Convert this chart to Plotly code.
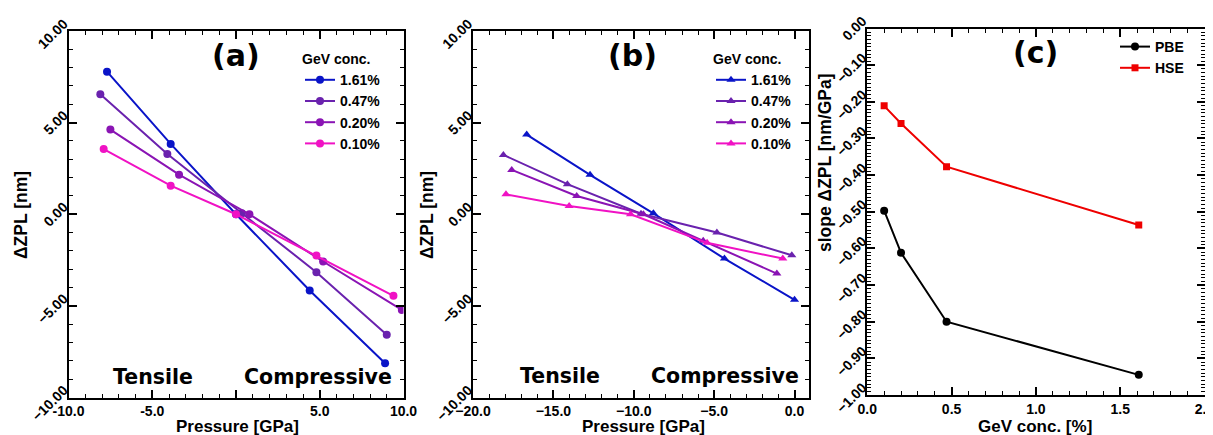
import plotly.graph_objects as go

# the page keeps the browser's 8px body margin, so the figure is drawn 8px smaller
PAGE_W, PAGE_H, BODY = 1213, 435, 8
W, H = PAGE_W - BODY, PAGE_H - BODY

# panel (a): PBE, pressure vs dZPL
conc_labels = ['1.61%', '0.47%', '0.20%', '0.10%']
colors = ['#0a14c8', '#6a22ae', '#8a14b4', '#f012c4']

press_a_161 = [-7.7, -3.9, 0.0, 4.4, 8.9]
zpl_a_161 = [7.78, 3.84, 0.0, -4.16, -8.13]
press_a_047 = [-8.1, -4.1, 0.35, 4.8, 9.0]
zpl_a_047 = [6.55, 3.29, 0.05, -3.16, -6.58]
press_a_020 = [-7.5, -3.4, 0.8, 5.2, 9.9]
zpl_a_020 = [4.62, 2.16, 0.0, -2.58, -5.22]
press_a_010 = [-7.9, -3.9, 0.0, 4.8, 9.4]
zpl_a_010 = [3.56, 1.56, 0.0, -2.25, -4.45]

# panel (b): HSE
press_b_161 = [-16.66, -12.72, -8.78, -4.36, 0.0]
zpl_b_161 = [4.35, 2.15, 0.05, -2.42, -4.67]
press_b_047 = [-18.11, -14.13, -9.55, -4.83, -0.17]
zpl_b_047 = [3.24, 1.64, 0.03, -1.0, -2.24]
press_b_020 = [-17.59, -13.55, -9.4, -5.68, -1.10]
zpl_b_020 = [2.42, 1.0, 0.0, -1.45, -3.24]
press_b_010 = [-17.95, -14.02, -10.2, -5.44, -0.73]
zpl_b_010 = [1.09, 0.45, 0.0, -1.56, -2.42]

# panel (c): slopes
gev_conc = [0.1, 0.2, 0.47, 1.61]
slope_pbe = [-0.497, -0.612, -0.80, -0.945]
slope_hse = [-0.211, -0.259, -0.377, -0.536]

# tick labels of panel (a) x axis (0.0 is hidden under the title there)
ticks_a_x = [-10, -5, 0, 5, 10]
ticklabels_a_x = ['-10.0', '-5.0', '', '5.0', '10.0']

FONT = 'Liberation Sans'
BIG = 'DejaVu Sans'


def px_x(p):
    return (p - BODY) / W


def px_y(p):
    return 1 - (p - BODY) / H


fig = go.Figure()

series_a = [(press_a_161, zpl_a_161), (press_a_047, zpl_a_047),
            (press_a_020, zpl_a_020), (press_a_010, zpl_a_010)]
series_b = [(press_b_161, zpl_b_161), (press_b_047, zpl_b_047),
            (press_b_020, zpl_b_020), (press_b_010, zpl_b_010)]

for (xs, ys), name, c in zip(series_a, conc_labels, colors):
    fig.add_trace(go.Scatter(x=xs, y=ys, name=name, mode='lines+markers',
                             line=dict(color=c, width=2),
                             marker=dict(symbol='circle', size=8, color=c),
                             xaxis='x', yaxis='y', legend='legend'))

for (xs, ys), name, c in zip(series_b, conc_labels, colors):
    fig.add_trace(go.Scatter(x=xs, y=ys, name=name, mode='lines+markers',
                             line=dict(color=c, width=2),
                             marker=dict(symbol='triangle-up', size=8, color=c),
                             xaxis='x2', yaxis='y2', legend='legend2'))

fig.add_trace(go.Scatter(x=gev_conc, y=slope_pbe, name='PBE', mode='lines+markers',
                         line=dict(color='black', width=2),
                         marker=dict(symbol='circle', size=8, color='black'),
                         xaxis='x3', yaxis='y3', legend='legend3'))
fig.add_trace(go.Scatter(x=gev_conc, y=slope_hse, name='HSE', mode='lines+markers',
                         line=dict(color='#ee0000', width=2),
                         marker=dict(symbol='square', size=7, color='#ee0000'),
                         xaxis='x3', yaxis='y3', legend='legend3'))

tickfont = dict(family=FONT, size=14, color='black', weight='bold')


def axis(domain, rng, dtick, minor_dtick, fmt, anchor, angle=0):
    ax = dict(domain=domain, range=rng, dtick=dtick, tick0=0, tickformat=fmt,
              anchor=anchor, showgrid=False, zeroline=False, automargin=False,
              showline=True, linecolor='black', linewidth=2, mirror='allticks',
              ticks='inside', ticklen=8, tickwidth=1.5, tickcolor='black',
              minor=dict(dtick=minor_dtick, ticks='inside', ticklen=4,
                         tickwidth=1.2, tickcolor='black', showgrid=False),
              tickfont=tickfont, tickangle=angle, ticklabeloverflow='allow')
    if angle:
        ax['ticklabelshift'] = -9
    return ax


ydom_ab = [px_y(397.5), px_y(31)]
ydom_c = [px_y(395), px_y(28.5)]

fig.update_layout(
    width=W, height=H,
    margin=dict(l=0, r=0, t=0, b=0),
    paper_bgcolor='white', plot_bgcolor='white',
    showlegend=True,
    xaxis=axis([px_x(68.5), px_x(403.5)], [-10, 10], 5, 1, '.1f', 'y'),
    yaxis=axis(ydom_ab, [-10, 10], 5, 1, '.2f', 'x', -45),
    xaxis2=axis([px_x(473), px_x(809)], [-20, 0.9], 5, 1, '.1f', 'y2'),
    yaxis2=axis(ydom_ab, [-10, 10], 5, 1, '.2f', 'x2', -45),
    xaxis3=axis([px_x(867.3), px_x(1204.5)], [0, 2], 0.5, 0.1, '.1f', 'y3'),
    yaxis3=axis(ydom_c, [-1, 0], 0.1, 0.01, '.2f', 'x3', -45),
)
fig.update_xaxes(tickmode='array', tickvals=ticks_a_x, ticktext=ticklabels_a_x,
                 selector=dict(anchor='y'))

legend_common = dict(bgcolor='rgba(0,0,0,0)', borderwidth=0, itemwidth=30,
                     font=dict(family=FONT, size=14, color='black', weight='bold'),
                     tracegroupgap=0, xanchor='left', yanchor='top')
fig.update_layout(
    legend=dict(x=px_x(300), y=px_y(46),
                title=dict(text='GeV conc.', font=dict(family=FONT, size=14, weight='bold')),
                **legend_common),
    legend2=dict(x=px_x(711), y=px_y(46),
                 title=dict(text='GeV conc.', font=dict(family=FONT, size=14, weight='bold')),
                 **legend_common),
    legend3=dict(x=px_x(1115), y=px_y(31), **legend_common),
)

annots = [
    ('(a)', 236, 55, 30, BIG), ('(b)', 632, 55, 30, BIG), ('(c)', 1035, 52, 30, BIG),
    ('Tensile', 153, 377, 20.5, BIG), ('Compressive', 318, 377, 20.5, BIG),
    ('Tensile', 560, 376, 20.5, BIG), ('Compressive', 725, 376, 20.5, BIG),
    ('Pressure [GPa]', 237, 426, 17, FONT), ('Pressure [GPa]', 643, 426, 17, FONT),
    ('GeV conc. [%]', 1035, 426, 17, FONT),
]
for text, x, y, size, fam in annots:
    fig.add_annotation(text=text, x=px_x(x), y=px_y(y), xref='paper', yref='paper',
                       showarrow=False, xanchor='center', yanchor='middle',
                       font=dict(family=fam, size=size, color='black', weight='bold'))

for text, x, y in [('ΔZPL [nm]', 21, 215), ('ΔZPL [nm]', 427, 215),
                   ('slope ΔZPL [nm/GPa]', 825, 163)]:
    fig.add_annotation(text=text, x=px_x(x), y=px_y(y), xref='paper', yref='paper',
                       showarrow=False, xanchor='center', yanchor='middle', textangle=-90,
                       font=dict(family=FONT, size=17.5, color='black', weight='bold'))

fig.write_html("out.html")
